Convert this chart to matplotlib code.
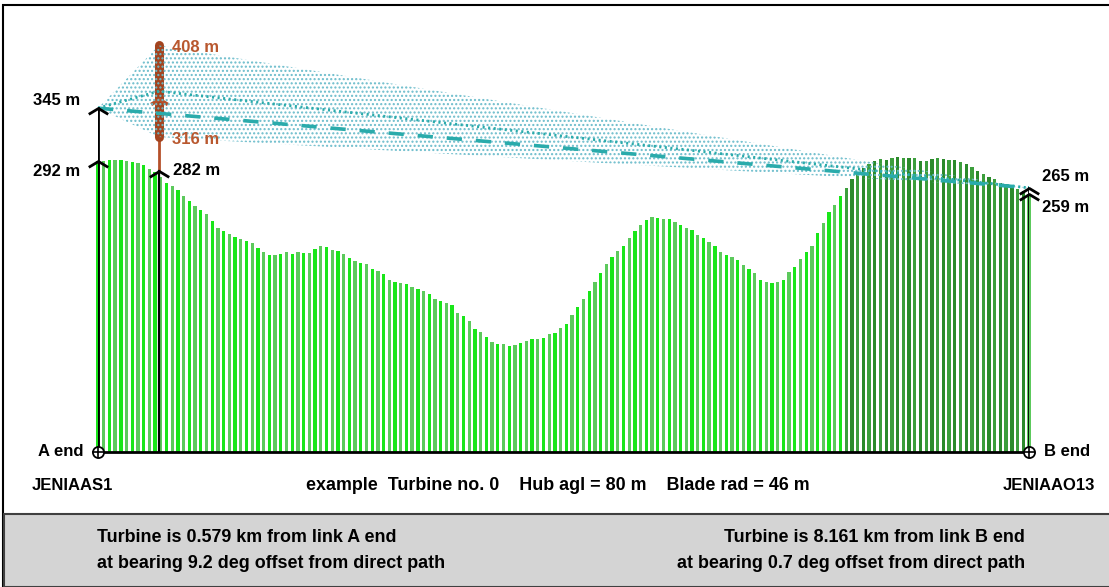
import numpy as np
import matplotlib
matplotlib.use("Agg")
import matplotlib.pyplot as plt
from matplotlib.patches import Polygon, Rectangle

# link ends and turbine
site_a = "JENIAAS1"
site_b = "JENIAAO13"
ground_a, antenna_a = 292, 345
ground_b, antenna_b = 259, 265
turbine_ground = 282
hub_agl = 80
blade_rad = 46
dist_from_a, bearing_a = 0.579, 9.2
dist_from_b, bearing_b = 8.161, 0.7

# terrain profile (m), evenly spaced samples from A end to B end
terrain_m = [
    292, 292, 293, 293, 293, 292, 291, 290, 288, 284,
    281, 276, 270, 267, 263, 257, 252, 247, 243, 239,
    232, 225, 222, 219, 216, 214, 212, 210, 205, 201,
    198, 198, 199, 201, 199, 201, 200, 200, 204, 207,
    206, 203, 202, 199, 195, 192, 190, 189, 184, 182,
    179, 173, 171, 170, 169, 166, 164, 162, 159, 154,
    152, 150, 147, 139, 136, 131, 123, 120, 115, 110,
    108, 108, 106, 107, 109, 111, 113, 113, 114, 118,
    119, 124, 128, 137, 145, 154, 162, 171, 180, 189,
    196, 202, 207, 215, 222, 228, 233, 236, 235, 234,
    234, 231, 228, 225, 223, 218, 215, 211, 207, 201,
    198, 196, 193, 188, 184, 180, 173, 171, 170, 171,
    173, 181, 186, 194, 201, 207, 220, 230, 241, 248,
    257, 265, 274, 280, 285, 289, 292, 294, 293, 295,
    296, 295, 295, 295, 292, 292, 294, 295, 294, 293,
    293, 291, 289, 286, 282, 279, 276, 274, 270, 269,
    267, 264, 262, 259,
]
near_path_from = 131   # samples drawn in the darker green

hub_h = turbine_ground + hub_agl
tip_top = hub_h + blade_rad
tip_bot = hub_h - blade_rad

turb_x = dist_from_a * np.cos(np.radians(bearing_a))
path_km = turb_x + dist_from_b * np.cos(np.radians(bearing_b))
sample_x = np.linspace(0, path_km, len(terrain_m))

W, H = 1109, 587
plt.rcParams["font.family"] = ["Liberation Sans", "DejaVu Sans"]
plt.rcParams["font.weight"] = "bold"
plt.rcParams["lines.scale_dashes"] = False
plt.rcParams["hatch.linewidth"] = 1.0
fig = plt.figure(figsize=(W / 100, H / 100), dpi=100)


def fx(x):
    return x / W


def fy(y):
    return 1 - y / H


# outer frame and grey info panel
fig.add_artist(Rectangle((fx(3), fy(587)), 1, fy(5) - fy(587), transform=fig.transFigure,
                         fill=False, edgecolor="black", lw=1.5))
fig.add_artist(Rectangle((fx(4), 0), 1, fy(514), transform=fig.transFigure,
                         facecolor="#d4d4d4", edgecolor="#404040", lw=1.5))

ax = fig.add_axes([fx(98), fy(452), (1029 - 98) / W, (452 - 5) / H])
ax.set_xlim(0, path_km)
ax.set_ylim(0, 448.5)
ax.axis("off")

# terrain bars
colors = []
for i in range(len(terrain_m)):
    if near_path_from <= i < len(terrain_m) - 1:
        colors.append("#2b8a2b" if i % 2 == 0 else "#3c9e3c")
    else:
        colors.append("#19e619" if i % 2 == 0 else "#5cc95c")
bar_w = path_km / (len(terrain_m) - 1) * 0.58
ax.bar(sample_x, terrain_m, width=bar_w, color=colors, linewidth=0, clip_on=False, zorder=2)

# turbine mast and rotor
ax.plot([turb_x, turb_x], [turbine_ground, tip_bot], color="#b5502a", lw=2, zorder=3)
ax.plot([turb_x, turb_x], [tip_bot, tip_top], color="#a3441f", lw=6.5,
        solid_capstyle="round", zorder=3)
chevron = [(-1, -0.6), (0, 0), (1, -0.6)]
ax.plot(turb_x, hub_h - 8, marker=chevron, ms=12, mfc="none", mec="#b5502a", mew=2.6, zorder=4)

# area swept between the link ends and the rotor
zone = Polygon([(0, antenna_a), (turb_x, tip_top), (path_km, antenna_b), (turb_x, tip_bot)],
               closed=True, fill=False, hatch="....", edgecolor="#6bbccb", lw=0, zorder=4)
ax.add_patch(zone)

# line of sight and path via the hub
ax.plot([0, path_km], [antenna_a, antenna_b], color="#2aabab", lw=2.6,
        dashes=(11, 10), zorder=5)
ax.plot([0, turb_x, path_km], [antenna_a, hub_h, antenna_b], color="#2aabab", lw=2,
        dashes=(1.5, 2.5), zorder=5)

# height arrows
ax.plot([0, 0], [0, antenna_a], color="black", lw=2, zorder=6)
ax.plot([turb_x, turb_x], [0, turbine_ground], color="black", lw=1.6, zorder=6)
ax.plot([path_km, path_km], [0, antenna_b], color="black", lw=2, zorder=6)
for xv, yv in [(0, antenna_a), (0, ground_a), (turb_x, turbine_ground),
               (path_km, antenna_b), (path_km, ground_b)]:
    ax.plot(xv, yv, marker=chevron, ms=14, mfc="none", mec="black", mew=2, zorder=7,
            clip_on=False)

# baseline and end markers
ax.plot([0, path_km], [0, 0], color="black", lw=2, zorder=6, clip_on=False)
for xv in (0, path_km):
    ax.plot(xv, 0, marker="o", ms=8, mfc="white", mec="black", mew=1.3, zorder=7, clip_on=False)
    ax.plot(xv, 0, marker="+", ms=8, mec="black", mew=1.2, zorder=8, clip_on=False)

fs = 12
fs_long = 12.9


def label(x, y, text, dx, dy, ha, color="black"):
    ax.annotate(text, (x, y), xytext=(dx, dy), textcoords="offset pixels",
                ha=ha, va="center", fontsize=fs, color=color, zorder=9,
                annotation_clip=False)


label(0, antenna_a, f"{antenna_a} m", -18, 8, "right")
label(0, ground_a, f"{ground_a} m", -18, -11, "right")
label(turb_x, turbine_ground, f"{turbine_ground} m", 14, 0, "left")
label(turb_x, tip_top, f"{tip_top} m", 13, -2, "left", "#b9582f")
label(turb_x, tip_bot, f"{tip_bot} m", 13, -2, "left", "#b9582f")
label(path_km, antenna_b, f"{antenna_b} m", 13, 11, "left")
label(path_km, ground_b, f"{ground_b} m", 13, -14, "left")
label(0, 0, "A end", -15, 0, "right")
label(path_km, 0, "B end", 15, 0, "left")

fig.text(fx(32), fy(485), site_a, ha="left", va="center", fontsize=fs)
fig.text(fx(1095), fy(485), site_b, ha="right", va="center", fontsize=fs)
fig.text(fx(306), fy(485),
         f"example  Turbine no. 0    Hub agl = {hub_agl} m    Blade rad = {blade_rad} m",
         ha="left", va="center", fontsize=fs_long)

fig.text(fx(97), fy(538), f"Turbine is {dist_from_a} km from link A end",
         ha="left", va="center", fontsize=fs_long)
fig.text(fx(97), fy(564), f"at bearing {bearing_a} deg offset from direct path",
         ha="left", va="center", fontsize=fs_long)
fig.text(fx(1025), fy(538), f"Turbine is {dist_from_b} km from link B end",
         ha="right", va="center", fontsize=fs_long)
fig.text(fx(1025), fy(564), f"at bearing {bearing_b} deg offset from direct path",
         ha="right", va="center", fontsize=fs_long)

fig.savefig("out.png", dpi=100, facecolor="white")
